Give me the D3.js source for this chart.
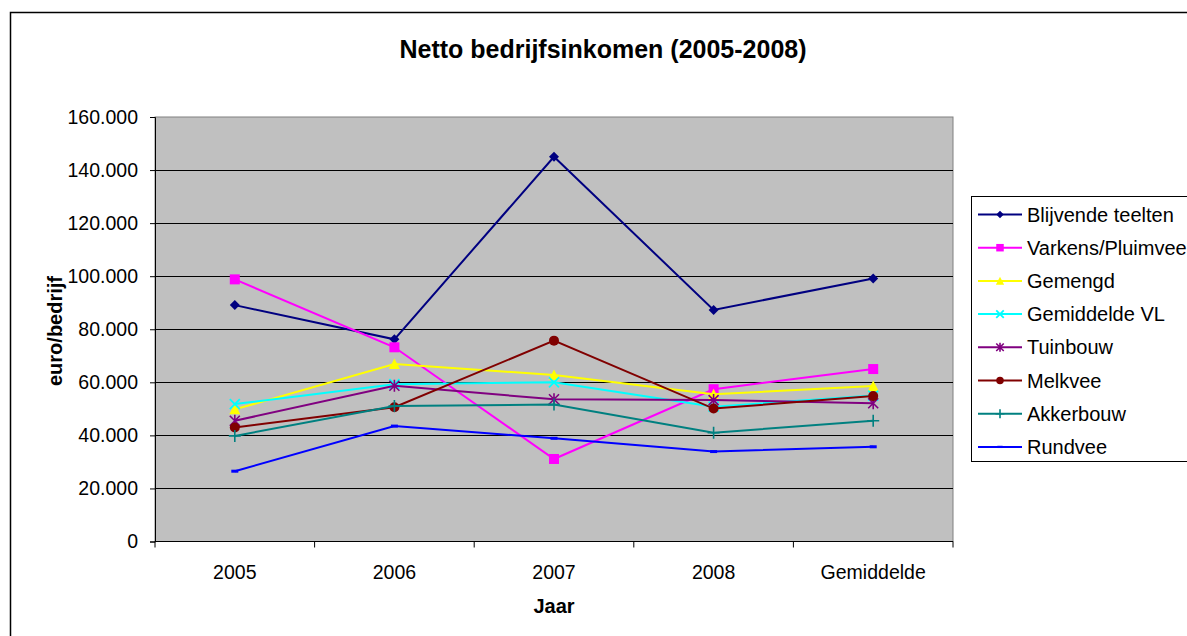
<!DOCTYPE html>
<html>
<head>
<meta charset="utf-8">
<script src="https://cdnjs.cloudflare.com/ajax/libs/d3/7.8.5/d3.min.js"></script>
<style>
  body { margin: 0; background: #fff; }
  text { font-family: "Liberation Sans", Arial, sans-serif; }
</style>
</head>
<body>
<script>
// categories and series
var categories = ['2005', '2006', '2007', '2008', 'Gemiddelde'];
var yTicks = [0, 20000, 40000, 60000, 80000, 100000, 120000, 140000, 160000];

var blijvendeTeelten = [89100, 76200, 145000, 87300, 99100];
var varkensPluimvee = [98800, 73200, 31100, 57400, 65000];
var gemengd = [49800, 66900, 62800, 55500, 58600];
var gemiddeldeVL = [51800, 59300, 60000, 50800, 55000];
var tuinbouw = [45500, 58700, 53600, 53300, 52100];
var melkvee = [43000, 50600, 75700, 50100, 54800];
var akkerbouw = [39800, 51100, 51600, 41000, 45500];
var rundvee = [26500, 43500, 38900, 33900, 35700];

var series = [
  { name: 'Blijvende teelten', values: blijvendeTeelten, color: '#000080', marker: 'diamond' },
  { name: 'Varkens/Pluimvee', values: varkensPluimvee, color: '#FF00FF', marker: 'square' },
  { name: 'Gemengd', values: gemengd, color: '#FFFF00', marker: 'triangle' },
  { name: 'Gemiddelde VL', values: gemiddeldeVL, color: '#00FFFF', marker: 'x' },
  { name: 'Tuinbouw', values: tuinbouw, color: '#800080', marker: 'star' },
  { name: 'Melkvee', values: melkvee, color: '#800000', marker: 'circle' },
  { name: 'Akkerbouw', values: akkerbouw, color: '#008080', marker: 'plus' },
  { name: 'Rundvee', values: rundvee, color: '#0000FF', marker: 'dash' }
];

var W = 1187, H = 636;
var plot = { left: 155, right: 953, top: 117, bottom: 541.5 };

var svg = d3.select('body').append('svg').attr('width', W).attr('height', H);

// outer chart frame (runs off the right and bottom edges)
svg.append('rect').attr('x', 10.5).attr('y', 12.5).attr('width', W + 20).attr('height', H + 20)
  .attr('fill', '#fff').attr('stroke', '#000').attr('stroke-width', 1.5);

var nl = d3.formatLocale({ decimal: ',', thousands: '.', grouping: [3], currency: ['€', ''] });
var fmt = nl.format(',d');

var x = d3.scalePoint().domain(categories).range([plot.left, plot.right]).padding(0.5);
var xBand = d3.scaleBand().domain(categories).range([plot.left, plot.right]);
var y = d3.scaleLinear().domain([0, 160000]).range([plot.bottom, plot.top]);

// plot area
svg.append('rect').attr('x', plot.left).attr('y', plot.top)
  .attr('width', plot.right - plot.left).attr('height', plot.bottom - plot.top)
  .attr('fill', '#C0C0C0').attr('stroke', '#808080').attr('stroke-width', 1);

// gridlines
svg.append('g').selectAll('line').data(yTicks.filter(function(d) { return d > 0 && d < 160000; }))
  .enter().append('line')
  .attr('x1', plot.left).attr('x2', plot.right)
  .attr('y1', function(d) { return Math.round(y(d)) + 0.5; })
  .attr('y2', function(d) { return Math.round(y(d)) + 0.5; })
  .attr('stroke', '#000').attr('stroke-width', 1);

// y axis
var yAxis = d3.axisLeft(y).tickValues(yTicks).tickFormat(function(d) { return d === 0 ? '0' : fmt(d); })
  .tickSize(5).tickPadding(12);
var gy = svg.append('g').attr('transform', 'translate(' + plot.left + ',0)').call(yAxis);
gy.select('.domain').attr('stroke', '#000');
gy.selectAll('.tick line').attr('stroke', '#000');
gy.selectAll('text').attr('font-size', '19.5px').attr('fill', '#000')
  .attr('font-family', '"Liberation Sans", Arial, sans-serif');

// x axis with ticks at the category edges
var gx = svg.append('g').attr('transform', 'translate(0,' + plot.bottom + ')');
gx.append('line').attr('x1', plot.left).attr('x2', plot.right).attr('stroke', '#000');
var edges = categories.map(function(c) { return xBand(c); }).concat([plot.right]);
gx.selectAll('line.tk').data(edges).enter().append('line').attr('class', 'tk')
  .attr('x1', function(d) { return d; }).attr('x2', function(d) { return d; })
  .attr('y1', 0).attr('y2', 6).attr('stroke', '#000');
gx.selectAll('text').data(categories).enter().append('text')
  .attr('x', function(d) { return x(d); }).attr('y', 37)
  .attr('text-anchor', 'middle').attr('font-size', '19.5px').text(function(d) { return d; });

// titles
svg.append('text').attr('x', 603).attr('y', 58).attr('text-anchor', 'middle')
  .attr('font-size', '25px').attr('font-weight', 'bold').text('Netto bedrijfsinkomen (2005-2008)');
svg.append('text').attr('transform', 'translate(62,331) rotate(-90)').attr('text-anchor', 'middle')
  .attr('font-size', '20px').attr('font-weight', 'bold').text('euro/bedrijf');
svg.append('text').attr('x', 554).attr('y', 613).attr('text-anchor', 'middle')
  .attr('font-size', '20px').attr('font-weight', 'bold').text('Jaar');

// markers
function drawMarker(g, type, color, s) {
  var h = 5 * s;
  if (type === 'diamond') {
    g.append('path').attr('d', 'M0,' + (-h) + 'L' + h + ',0L0,' + h + 'L' + (-h) + ',0Z').attr('fill', color);
  } else if (type === 'square') {
    g.append('rect').attr('x', -h).attr('y', -h).attr('width', 2 * h).attr('height', 2 * h).attr('fill', color);
  } else if (type === 'triangle') {
    g.append('path').attr('d', 'M0,' + (-h * 1.1) + 'L' + (h * 1.1) + ',' + h + 'L' + (-h * 1.1) + ',' + h + 'Z').attr('fill', color);
  } else if (type === 'circle') {
    g.append('circle').attr('r', h).attr('fill', color);
  } else if (type === 'x') {
    g.append('path').attr('d', 'M' + (-h) + ',' + (-h) + 'L' + h + ',' + h + 'M' + h + ',' + (-h) + 'L' + (-h) + ',' + h)
      .attr('stroke', color).attr('stroke-width', 1.8).attr('fill', 'none');
  } else if (type === 'star') {
    g.append('path').attr('d', 'M' + (-h) + ',' + (-h) + 'L' + h + ',' + h + 'M' + h + ',' + (-h) + 'L' + (-h) + ',' + h + 'M0,' + (-h * 1.2) + 'L0,' + (h * 1.2))
      .attr('stroke', color).attr('stroke-width', 1.6).attr('fill', 'none');
  } else if (type === 'plus') {
    g.append('path').attr('d', 'M' + (-h * 1.2) + ',0L' + (h * 1.2) + ',0M0,' + (-h * 1.2) + 'L0,' + (h * 1.2))
      .attr('stroke', color).attr('stroke-width', 1.6).attr('fill', 'none');
  } else if (type === 'dash') {
    g.append('rect').attr('x', -3.5 * s).attr('y', -1.5 * s).attr('width', 7 * s).attr('height', 3 * s).attr('fill', color);
  }
}

var line = d3.line()
  .x(function(d, i) { return x(categories[i]); })
  .y(function(d) { return y(d); });

series.forEach(function(s) {
  var g = svg.append('g');
  g.append('path').datum(s.values).attr('d', line)
    .attr('fill', 'none').attr('stroke', s.color).attr('stroke-width', 2);
  s.values.forEach(function(v, i) {
    var m = g.append('g').attr('transform', 'translate(' + x(categories[i]) + ',' + y(v) + ')');
    drawMarker(m, s.marker, s.color, 1);
  });
});

// legend
var lg = svg.append('g');
lg.append('rect').attr('x', 971.5).attr('y', 196.5).attr('width', 260).attr('height', 265)
  .attr('fill', '#fff').attr('stroke', '#000').attr('stroke-width', 1);
series.forEach(function(s, i) {
  var cy = 214.5 + i * 33.2;
  lg.append('line').attr('x1', 978).attr('x2', 1022).attr('y1', cy).attr('y2', cy)
    .attr('stroke', s.color).attr('stroke-width', 2);
  var m = lg.append('g').attr('transform', 'translate(1000,' + cy + ')');
  drawMarker(m, s.marker, s.color, 0.75);
  lg.append('text').attr('x', 1027).attr('y', cy + 7).attr('font-size', '20px').text(s.name);
});
</script>
</body>
</html>
